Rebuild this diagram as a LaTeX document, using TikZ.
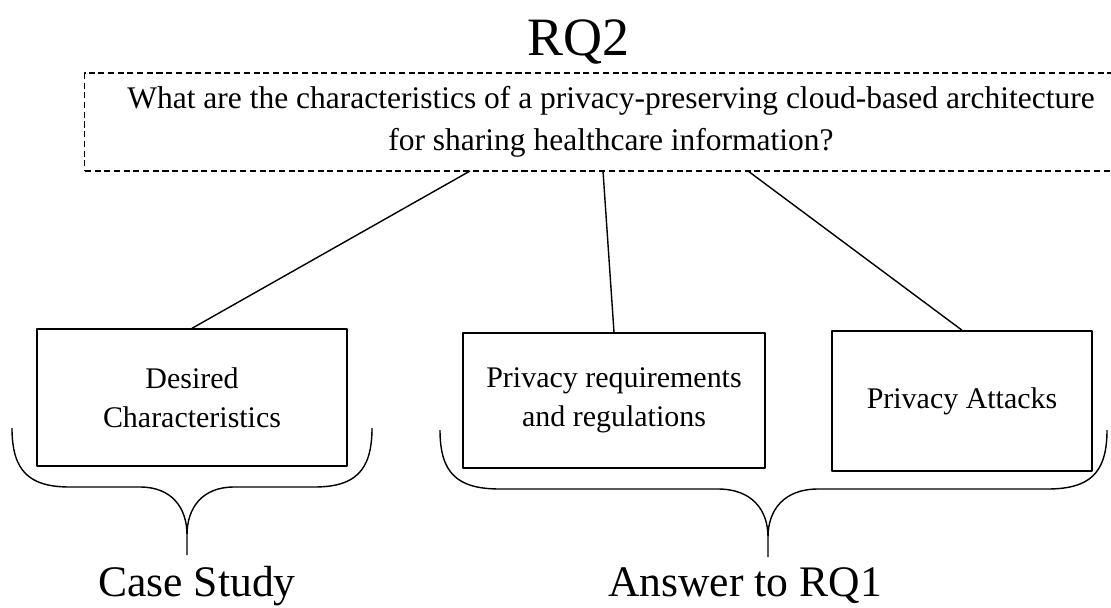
\documentclass[tikz,border=0pt]{standalone}
\usepackage{fontspec}
\setmainfont{Liberation Serif}
\usetikzlibrary{positioning}

\begin{document}
\begin{tikzpicture}[x=0.025cm, y=-0.025cm, line join=round,
    qbox/.style={rectangle, draw, dashed, dash pattern=on 4.3pt off 2.6pt,
                 line width=0.9pt, minimum width=26.3cm, minimum height=2.45cm,
                 align=center, font=\fontsize{22.4}{30}\selectfont},
    topic/.style={rectangle, draw, line width=1.1pt, align=center,
                  font=\fontsize{21.3}{27.7}\selectfont},
    head/.style={anchor=base, inner sep=0pt, font=\fontsize{31}{36}\selectfont},
    link/.style={line width=1pt},
    brace/.style={line width=1pt}]
  \clip (0,0) rectangle (1111,607);
  % title and question
  \node[anchor=base, inner sep=0pt, font=\fontsize{38.4}{44}\selectfont] (rq2) at (578,55) {RQ2};
  \node[qbox] (question) at (611,122) {What are the characteristics of a privacy-preserving cloud-based architecture\\for sharing healthcare information?};
  % topics
  \node[topic, minimum width=7.75cm, minimum height=3.42cm] (desired) at (192,397.5) {Desired\\Characteristics};
  \node[topic, minimum width=7.55cm, minimum height=3.37cm] (privreq) at (614,400.5) {Privacy requirements\\and regulations};
  \node[topic, minimum width=6.5cm, minimum height=3.5cm] (attacks) at (962,401) {Privacy Attacks};
  % links from the question
  \coordinate (qa) at (470,171);
  \coordinate (qb) at (603,171);
  \coordinate (qc) at (748,171);
  \draw[link] (qa) -- (desired.north);
  \draw[link] (qb) -- (privreq.north);
  \draw[link] (qc) -- (attacks.north);
  % braces
  \draw[brace] (12,428) .. controls (12,472) and (30,487) .. (70,487) -- (140,487)
        .. controls (172,487) and (187,508) .. (187,535) -- (187,555)
        (187,535) .. controls (187,508) and (202,487) .. (234,487) -- (314,487)
        .. controls (354,487) and (372,472) .. (372,428);
  \draw[brace] (440,430) .. controls (440,474) and (458,489) .. (500,489) -- (718,489)
        .. controls (752,489) and (768,510) .. (768,537) -- (768,557)
        (768,537) .. controls (768,510) and (784,489) .. (818,489) -- (1047,489)
        .. controls (1089,489) and (1107,474) .. (1107,430);
  % labels under the braces
  \node[head] (casestudy) at (197,596) {Case Study};
  \node[head] (answer) at (745,596) {Answer to RQ1};
\end{tikzpicture}
\end{document}
